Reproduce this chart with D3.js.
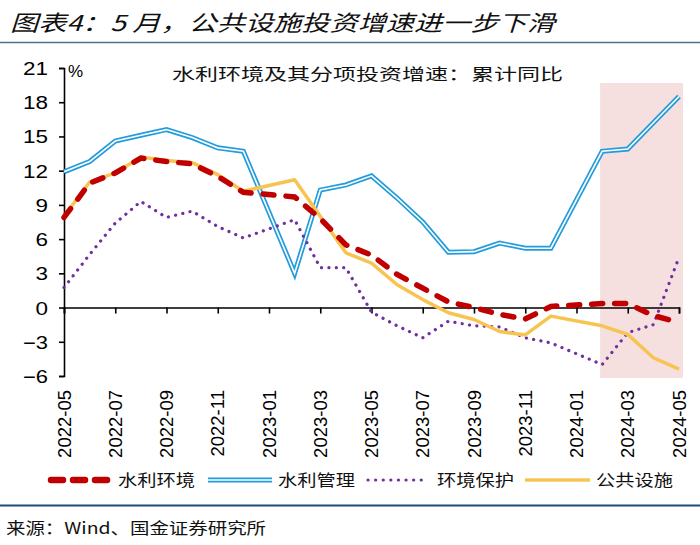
<!DOCTYPE html>
<html>
<head>
<meta charset="utf-8">
<script src="https://cdn.jsdelivr.net/npm/d3@7"></script>
<style>
  html, body { margin: 0; padding: 0; background: #fff; }
  svg { display: block; }
</style>
</head>
<body>
<svg id="chart" width="700" height="545"></svg>
<script>
// ---- data ----
const months = ["2022-05","2022-06","2022-07","2022-08","2022-09","2022-10","2022-11","2022-12",
  "2023-01","2023-02","2023-03","2023-04","2023-05","2023-06","2023-07","2023-08","2023-09","2023-10","2023-11","2023-12",
  "2024-01","2024-02","2024-03","2024-04","2024-05"];
const tickLabels = ["2022-05","2022-07","2022-09","2022-11","2023-01","2023-03","2023-05","2023-07","2023-09","2023-11","2024-01","2024-03","2024-05"];
const yTicks = [-6,-3,0,3,6,9,12,15,18,21];
const seriesNames = ["水利环境","水利管理","环境保护","公共设施"];
const waterEnv = [7.9,10.9,11.8,13.1,12.8,12.6,11.5,10.1,null,9.7,7.8,5.5,4.6,2.9,1.7,0.5,0.0,-0.6,-1.0,0.1,null,0.35,0.35,-0.7,-1.3];
const waterMgmt = [11.9,12.8,14.6,15.1,15.6,14.9,14.0,13.7,null,3.0,10.3,10.75,11.55,9.6,7.5,4.85,4.9,5.65,5.2,5.2,null,13.7,13.9,16.2,18.5];
const envProt = [1.75,4.65,7.4,9.3,7.9,8.45,7.1,6.1,null,7.7,3.5,3.5,-0.4,-1.6,-2.65,-1.2,-1.6,-1.7,-2.65,-3.1,null,-5.0,-2.2,-1.5,4.4];
const publicFac = [8.0,11.0,11.8,13.2,12.9,12.7,11.65,10.2,null,11.2,8.0,4.8,3.9,2.0,0.7,-0.45,-1.05,-2.1,-2.4,-0.75,null,-1.6,-2.35,-4.4,-5.4];
const shadeFrom = "2024-02", shadeTo = "2024-05";

// ---- layout ----
const svg = d3.select("#chart");
const x = d3.scalePoint().domain(months).range([64, 679]);
const y = d3.scaleLinear().domain([-6, 21]).range([376, 68]);

// title
svg.append("text").attr("x", 10).attr("y", 31)
  .attr("font-family", "'Noto Sans CJK SC', sans-serif").attr("font-size", 22)
  .attr("font-style", "italic").attr("font-weight", 400).attr("fill", "#111")
  .attr("textLength", 545).attr("lengthAdjust", "spacingAndGlyphs")
  .text("图表4：5 月，公共设施投资增速进一步下滑");
svg.append("line").attr("x1", 0).attr("x2", 700).attr("y1", 42.5).attr("y2", 42.5)
  .attr("stroke", "#50718a").attr("stroke-width", 1.5);

// shaded region
svg.append("rect")
  .attr("x", x(shadeFrom) - 2).attr("y", 83)
  .attr("width", x(shadeTo) - x(shadeFrom) + 6).attr("height", 295)
  .attr("fill", "#f6dfdf");

// inner title
svg.append("text").attr("x", 172).attr("y", 80)
  .attr("font-family", "'Noto Sans CJK SC', sans-serif").attr("font-size", 16)
  .attr("fill", "#111").attr("textLength", 391).attr("lengthAdjust", "spacingAndGlyphs")
  .text("水利环境及其分项投资增速：累计同比");

// y axis
const yAxis = svg.append("g").attr("transform", "translate(64,0)")
  .call(d3.axisLeft(y).tickValues(yTicks).tickSize(5).tickFormat(d3.format("d")));
yAxis.select(".domain").attr("stroke", "#000").attr("stroke-width", 1.6);
yAxis.selectAll(".tick line").attr("stroke", "#000").attr("stroke-width", 1.6);
yAxis.selectAll(".tick text")
  .attr("font-family", "'Liberation Sans', Arial, sans-serif").attr("font-size", 18)
  .attr("fill", "#000").attr("x", -16).attr("dy", "0.36em")
  .attr("textLength", d => String(d).length > 1 ? 25 : 12.5)
  .attr("lengthAdjust", "spacingAndGlyphs");
svg.append("text").attr("x", 68).attr("y", 77)
  .attr("font-family", "'Liberation Sans', Arial, sans-serif").attr("font-size", 17)
  .text("%");

// x axis at zero
const xAxis = svg.append("g").attr("transform", `translate(0,${y(0)})`)
  .call(d3.axisBottom(x).tickValues(tickLabels).tickSize(6).tickFormat(() => ""));
xAxis.select(".domain").attr("stroke", "#000").attr("stroke-width", 1.6);
xAxis.selectAll(".tick line").attr("stroke", "#000").attr("stroke-width", 1.6);

// x labels (rotated) below plot
svg.append("g").selectAll("text").data(tickLabels).join("text")
  .attr("transform", d => `translate(${x(d) + 6.5},390) rotate(-90)`)
  .attr("text-anchor", "end")
  .attr("font-family", "'Liberation Sans', Arial, sans-serif").attr("font-size", 18.5)
  .attr("fill", "#000")
  .text(d => d);

// lines
const pts = arr => months.map((m, i) => ({m, v: arr[i]})).filter(d => d.v !== null);
const line = d3.line().x(d => x(d.m)).y(d => y(d.v));

// 水利管理 double line
svg.append("path").attr("d", line(pts(waterMgmt))).attr("fill", "none")
  .attr("stroke", "#229cdb").attr("stroke-width", 5).attr("stroke-linejoin", "miter");
svg.append("path").attr("d", line(pts(waterMgmt))).attr("fill", "none")
  .attr("stroke", "#fff").attr("stroke-width", 1.6);

// 环境保护 dotted
svg.append("path").attr("d", line(pts(envProt))).attr("fill", "none")
  .attr("stroke", "#7030a0").attr("stroke-width", 3.2)
  .attr("stroke-linecap", "round").attr("stroke-dasharray", "0.1,7.3");

// 公共设施
svg.append("path").attr("d", line(pts(publicFac))).attr("fill", "none")
  .attr("stroke", "#f7c452").attr("stroke-width", 3.5).attr("stroke-linejoin", "round");

// 水利环境 dashed
svg.append("path").attr("d", line(pts(waterEnv))).attr("fill", "none")
  .attr("stroke", "#c00000").attr("stroke-width", 5.5)
  .attr("stroke-linecap", "round").attr("stroke-dasharray", "11,12");

// legend
const lg = svg.append("g");
const ly = 480;
lg.append("line").attr("x1", 51).attr("x2", 110).attr("y1", ly).attr("y2", ly)
  .attr("stroke", "#c00000").attr("stroke-width", 6.5).attr("stroke-linecap", "round")
  .attr("stroke-dasharray", "12,10");
lg.append("line").attr("x1", 208).attr("x2", 272).attr("y1", ly).attr("y2", ly)
  .attr("stroke", "#229cdb").attr("stroke-width", 5);
lg.append("line").attr("x1", 208).attr("x2", 272).attr("y1", ly).attr("y2", ly)
  .attr("stroke", "#fff").attr("stroke-width", 1.6);
lg.append("line").attr("x1", 368).attr("x2", 428).attr("y1", ly).attr("y2", ly)
  .attr("stroke", "#7030a0").attr("stroke-width", 3.2).attr("stroke-linecap", "round")
  .attr("stroke-dasharray", "0.1,7.5");
lg.append("line").attr("x1", 525).attr("x2", 590).attr("y1", ly).attr("y2", ly)
  .attr("stroke", "#f7c452").attr("stroke-width", 3.5);
const lx = [118, 278, 437, 596];
lg.selectAll("text.lgt").data(seriesNames).join("text").attr("class", "lgt")
  .attr("x", (d, i) => lx[i]).attr("y", ly + 6)
  .attr("font-family", "'Noto Sans CJK SC', sans-serif").attr("font-size", 16)
  .attr("fill", "#111").attr("textLength", 77).attr("lengthAdjust", "spacingAndGlyphs")
  .text(d => d);

// bottom rule + source
svg.append("line").attr("x1", 0).attr("x2", 700).attr("y1", 505.5).attr("y2", 505.5)
  .attr("stroke", "#1f4e79").attr("stroke-width", 2);
svg.append("text").attr("x", 6).attr("y", 534)
  .attr("font-family", "'Noto Sans CJK SC', sans-serif").attr("font-size", 16)
  .attr("fill", "#111").attr("textLength", 260).attr("lengthAdjust", "spacingAndGlyphs")
  .text("来源：Wind、国金证券研究所");
</script>
</body>
</html>
